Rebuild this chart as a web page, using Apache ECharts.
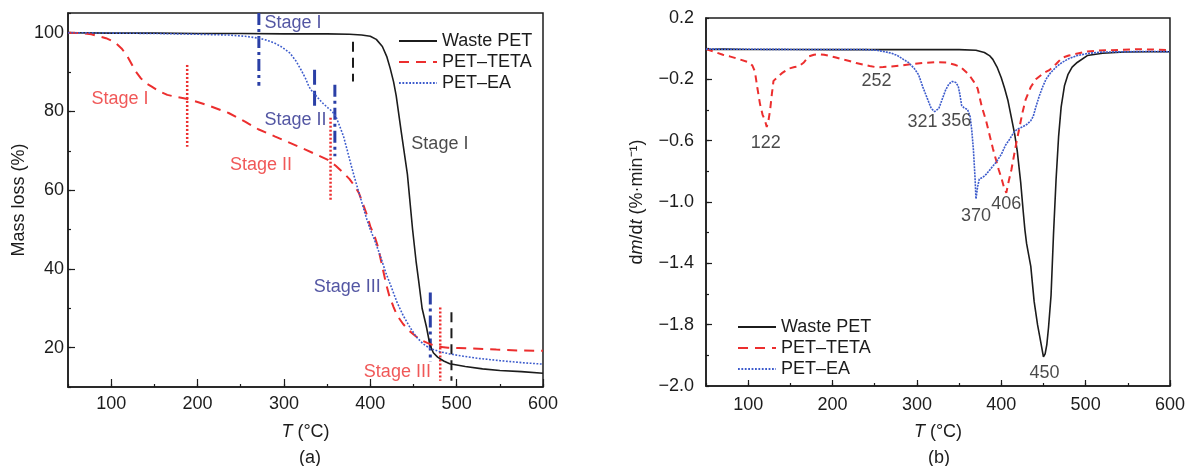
<!DOCTYPE html>
<html>
<head>
<meta charset="utf-8">
<script src="https://cdn.jsdelivr.net/npm/echarts@6/dist/echarts.min.js"></script>
<style>
  html, body { margin: 0; padding: 0; background: #fff; }
  #chart { width: 1188px; height: 466px; }
</style>
</head>
<body>
<div id="chart"></div>
<script>
// ---------- (a) TGA: mass loss (%) versus temperature (°C) ----------
const tempWasteA = [50, 100, 150, 200, 250, 300, 350, 376, 390, 400, 407, 414, 419, 423, 427, 430, 436, 443, 449, 453, 456, 460, 465, 469, 473, 478, 485, 492, 510, 530, 550, 575, 600];
const massWasteA = [100, 99.9, 99.9, 99.8, 99.8, 99.7, 99.7, 99.6, 99.4, 99.1, 98.3, 96.5, 94, 91, 87.5, 84, 74.6, 64, 50, 42, 37, 30, 25.3, 20.8, 18.7, 17.6, 16.6, 15.9, 15.2, 14.6, 14.2, 13.9, 13.5];

const tempTetaA = [50, 65, 77, 94, 104, 112, 118, 123, 128, 134, 140, 147, 155, 165, 175, 187, 200, 210, 225, 236, 255, 271, 290, 307, 325, 338, 351, 360, 369, 376, 382, 387, 391, 396, 400, 405, 409, 413, 418, 422, 427, 431, 438, 445, 452, 458, 466, 473, 480, 490, 502, 525, 546, 570, 600];
const massTetaA = [100, 99.9, 99.6, 98.6, 97.6, 96, 94.3, 92.3, 90.3, 88.5, 87.2, 86.3, 85.2, 84.2, 83.7, 83.2, 82.4, 81.7, 80.5, 79.6, 77.4, 75.4, 73.6, 72, 70.3, 69, 67.7, 66.2, 64.4, 62.8, 61, 59.2, 56.8, 53.8, 50.8, 48.3, 45.5, 41.5, 36.5, 33.2, 30.3, 28.2, 26, 24.3, 23, 22, 21.2, 20.6, 20.2, 20, 19.9, 19.7, 19.5, 19.3, 19.2];

const tempEaA = [50, 100, 150, 200, 236, 255, 271, 280, 289, 298, 307, 314, 320, 325, 329, 333, 338, 344, 351, 356, 360, 364, 369, 373, 378, 382, 387, 391, 396, 400, 405, 409, 413, 418, 424, 431, 438, 445, 453, 461, 469, 480, 492, 508, 524, 550, 575, 600];
const massEaA = [100, 99.9, 99.8, 99.6, 99.4, 99.1, 98.6, 98.1, 97.4, 96.3, 94.8, 92.8, 90.5, 88.4, 86.3, 85, 83.8, 82.3, 80.9, 80, 78.8, 76.6, 73.7, 70.4, 66.2, 63, 59.3, 56.3, 52.6, 50, 47.3, 44.9, 42.4, 39, 35.6, 31.5, 28.2, 25.5, 22.8, 21, 19.8, 19, 18.4, 17.8, 17.3, 16.7, 16.2, 15.8];

// stage boundaries: [temperature, upper mass, lower mass]
const stageBoundsWaste = [[380, 97.7, 87.6], [494, 29, 11.6]];
const stageBoundsTeta = [[188, 91.8, 71], [354, 78.4, 57.2], [481, 30.2, 11.6]];
const stageBoundsEa = [[271, 105, 86.5], [335.5, 90.6, 80.4], [359, 86.8, 68.6], [469.5, 34, 16.4]];

// stage captions: [text, temperature at left edge, mass at mid-height]
const stageNotesWaste = [['Stage I', 447, 71.6]];
const stageNotesTeta = [['Stage I', 76.5, 83.1], ['Stage II', 237, 66.5], ['Stage III', 392, 13.9]];
const stageNotesEa = [['Stage I', 277, 102.5], ['Stage II', 277, 77.7], ['Stage III', 334, 35.3]];

const xTicksA = [100, 200, 300, 400, 500, 600];
const yTicksA = [20, 40, 60, 80, 100];

// ---------- (b) DTG: dm/dt (%·min⁻¹) versus temperature (°C) ----------
const tempWasteB = [50, 70, 100, 150, 200, 250, 300, 350, 370, 380, 386, 390, 395, 400, 404, 408, 412, 416, 419, 423, 426, 428, 430, 432, 435, 439, 443, 446, 448, 450, 452, 454, 456, 459, 462, 465, 468, 471, 475, 479, 484, 490, 502, 520, 546, 575, 600];
const dtgWasteB = [-0.005, -0.003, -0.005, -0.005, -0.006, -0.006, -0.006, -0.006, -0.01, -0.025, -0.045, -0.07, -0.12, -0.19, -0.26, -0.34, -0.45, -0.56, -0.67, -0.87, -1.06, -1.18, -1.27, -1.33, -1.42, -1.65, -1.8, -1.89, -1.95, -2.01, -1.99, -1.93, -1.82, -1.61, -1.2, -0.85, -0.57, -0.38, -0.24, -0.17, -0.12, -0.09, -0.045, -0.03, -0.022, -0.02, -0.02];

const tempTetaB = [50, 60, 70, 78, 90, 101, 105, 108, 111, 114, 117, 120, 122, 124, 126, 128, 130, 134, 140, 148, 155, 160, 166, 172, 178, 184, 190, 196, 204, 212, 220, 228, 236, 244, 252, 260, 270, 280, 295, 310, 325, 335, 345, 352, 358, 363, 368, 372, 377, 382, 386, 390, 394, 397, 400, 403, 406, 409, 412, 415, 418, 421, 425, 429, 435, 441, 450, 457, 465, 472, 480, 492, 502, 516, 540, 560, 580, 600];
const dtgTetaB = [-0.003, -0.02, -0.04, -0.05, -0.07, -0.09, -0.11, -0.15, -0.26, -0.36, -0.43, -0.47, -0.51, -0.47, -0.4, -0.3, -0.21, -0.19, -0.16, -0.13, -0.12, -0.115, -0.09, -0.05, -0.04, -0.036, -0.04, -0.047, -0.058, -0.07, -0.08, -0.094, -0.103, -0.113, -0.121, -0.12, -0.116, -0.11, -0.1, -0.092, -0.088, -0.09, -0.105, -0.12, -0.15, -0.18, -0.22, -0.26, -0.38, -0.47, -0.56, -0.65, -0.73, -0.79, -0.84, -0.9, -0.94, -0.86, -0.79, -0.7, -0.61, -0.53, -0.42, -0.33, -0.25, -0.2, -0.16, -0.14, -0.1, -0.06, -0.045, -0.03, -0.018, -0.012, -0.008, -0.003, -0.006, -0.01];

const tempEaB = [50, 100, 150, 200, 240, 252, 262, 270, 277, 284, 290, 297, 302, 307, 312, 317, 321, 326, 330, 334, 338, 342, 346, 349, 351, 353, 356, 360, 363, 365, 367, 369, 370, 372, 374, 378, 382, 388, 394, 400, 405, 410, 415, 419, 425, 430, 435, 438, 441, 445, 449, 453, 458, 465, 472, 480, 490, 504, 520, 550, 575, 600];
const dtgEaB = [-0.003, -0.004, -0.005, -0.005, -0.006, -0.01, -0.02, -0.03, -0.045, -0.07, -0.09, -0.13, -0.17, -0.25, -0.32, -0.39, -0.41, -0.39, -0.33, -0.27, -0.23, -0.214, -0.22, -0.245, -0.3, -0.37, -0.386, -0.397, -0.44, -0.53, -0.66, -0.85, -0.98, -0.9, -0.85, -0.84, -0.82, -0.78, -0.74, -0.69, -0.63, -0.59, -0.545, -0.525, -0.51, -0.495, -0.47, -0.44, -0.38, -0.31, -0.25, -0.2, -0.16, -0.12, -0.09, -0.065, -0.045, -0.03, -0.022, -0.02, -0.018, -0.02];

// peak temperatures annotated on each DTG curve
const peaksWasteB = [450];
const peaksTetaB = [122, 252, 406];
const peaksEaB = [321, 356, 370];

const xTicksB = [100, 200, 300, 400, 500, 600];
const yTicksB = [0.2, -0.2, -0.6, -1.0, -1.4, -1.8, -2.2];
const yTickLabelsB = ['0.2', '−0.2', '−0.6', '−1.0', '−1.4', '−1.8', '−2.0'];

const seriesNames = ['Waste PET', 'PET–TETA', 'PET–EA'];

// ---------- styling ----------
const FONT = '"Liberation Sans", Arial, Helvetica, sans-serif';
const INK = '#1c1c1c';
const RED = '#ec2e2e';
const BLUE = '#3c5bcc';
const NAVY = '#2a3fa6';
const NAVY_TEXT = '#282c8c';

const zip = (xs, ys) => xs.map((x, i) => [x, ys[i]]);
const valueAt = (xs, ys, t) => ys[xs.indexOf(t)];

// shift (px) of each peak caption relative to its peak
const peakLabelShift = { 122: [-1, 16], 252: [0, 14], 406: [0, 11], 321: [-12, 10], 356: [-8, 13], 370: [0, 17], 450: [1, 16] };

function valueAxis(grid, min, max, interval, opts) {
  return Object.assign({
    type: 'value', gridIndex: grid, min: min, max: max, interval: interval,
    axisLine: { show: true, onZero: false, lineStyle: { color: INK, width: 1.5 } },
    axisTick: { show: true, inside: true, length: 3, lineStyle: { color: INK, width: 1.2 } },
    splitLine: { show: false },
  }, opts);
}

// extra axis that only draws the longer major ticks
function tickOverlay(grid, min, max, values, len, position) {
  return {
    type: 'value', gridIndex: grid, min: min, max: max, position: position,
    axisLine: { show: false, onZero: false },
    axisLabel: { show: false },
    splitLine: { show: false },
    axisTick: { show: true, inside: true, length: len, customValues: values, lineStyle: { color: INK, width: 1.2 } }
  };
}

const labelStyle = { color: INK, fontSize: 18, fontFamily: FONT };
const nameStyle = {
  color: INK, fontSize: 18, fontFamily: FONT,
  rich: { it: { fontStyle: 'italic', fontSize: 18, fontFamily: FONT, color: INK } }
};

const xAxes = [
  valueAxis(0, 50, 600, 50, {
    position: 'bottom',
    axisLabel: Object.assign({ customValues: xTicksA, margin: 8 }, labelStyle),
    name: '{it|T} (°C)', nameLocation: 'middle', nameGap: 36, nameTextStyle: nameStyle
  }),
  tickOverlay(0, 50, 600, xTicksA, 8, 'bottom'),
  valueAxis(1, 50, 600, 50, {
    position: 'bottom',
    axisLabel: Object.assign({ customValues: xTicksB, margin: 10 }, labelStyle),
    name: '{it|T} (°C)', nameLocation: 'middle', nameGap: 37, nameTextStyle: nameStyle
  }),
  tickOverlay(1, 50, 600, xTicksB, 6, 'bottom')
];

const yAxes = [
  valueAxis(0, 10, 105, 10, {
    position: 'left',
    axisLabel: Object.assign({ customValues: yTicksA, margin: 4 }, labelStyle),
    name: 'Mass loss (%)', nameLocation: 'middle', nameGap: 40, nameTextStyle: nameStyle
  }),
  tickOverlay(0, 10, 105, yTicksA, 7, 'left'),
  valueAxis(1, -2.2, 0.2, 0.2, {
    position: 'left',
    axisLabel: Object.assign({
      customValues: yTicksB, margin: 12,
      formatter: v => yTickLabelsB[yTicksB.findIndex(t => Math.abs(t - v) < 1e-6)]
    }, labelStyle),
    name: 'd{it|m}/d{it|t} (%·min⁻¹)', nameLocation: 'middle', nameGap: 60, nameTextStyle: nameStyle
  }),
  tickOverlay(1, -2.2, 0.2, yTicksB.slice(1, 6), 6, 'left')
];

function curve(name, data, axis, color, width, type) {
  return {
    name: name, type: 'line', data: data, xAxisIndex: axis, yAxisIndex: axis,
    symbol: 'none', smooth: false, silent: true, z: 3,
    itemStyle: { color: color },
    lineStyle: { color: color, width: width, type: type }
  };
}

function boundary(bound, color, width, type, idx) {
  return {
    name: 'bound-' + idx, type: 'line', xAxisIndex: 0, yAxisIndex: 0,
    data: [[bound[0], bound[1]], [bound[0], bound[2]]],
    symbol: 'none', silent: true, z: 2,
    itemStyle: { color: color },
    lineStyle: { color: color, width: width, type: type }
  };
}

function stageCaptions(notes, color, idx) {
  return {
    name: 'stage-' + idx, type: 'scatter', xAxisIndex: 0, yAxisIndex: 0,
    symbolSize: 1, itemStyle: { color: 'rgba(0,0,0,0)' }, silent: true, z: 5,
    data: notes.map(n => ({
      value: [n[1], n[2]],
      label: { show: true, position: 'right', distance: 0, formatter: n[0], color: color, fontSize: 18, fontFamily: FONT }
    }))
  };
}

function peakCaptions(peaks, xs, ys, idx) {
  return {
    name: 'peak-' + idx, type: 'scatter', xAxisIndex: 2, yAxisIndex: 2,
    symbolSize: 1, itemStyle: { color: 'rgba(0,0,0,0)' }, silent: true, z: 5,
    data: peaks.map(t => ({
      value: [t, valueAt(xs, ys, t)],
      label: { show: true, position: 'inside', offset: peakLabelShift[t], formatter: String(t), color: INK, fontSize: 18, fontFamily: FONT }
    }))
  };
}

const DASH_A = [10, 7];
const DOT_A = [1.8, 1.6];
const DASH_B = [7, 5];
const DOT_B = [2, 1];
const DASHDOT = [12, 4, 3, 4];

const series = [
  curve(seriesNames[0], zip(tempWasteA, massWasteA), 0, INK, 1.6, 'solid'),
  curve(seriesNames[1], zip(tempTetaA, massTetaA), 0, RED, 2, DASH_A),
  curve(seriesNames[2], zip(tempEaA, massEaA), 0, BLUE, 1.6, DOT_A),
  curve(seriesNames[0], zip(tempWasteB, dtgWasteB), 2, INK, 1.6, 'solid'),
  curve(seriesNames[1], zip(tempTetaB, dtgTetaB), 2, RED, 2, DASH_B),
  curve(seriesNames[2], zip(tempEaB, dtgEaB), 2, BLUE, 1.6, DOT_B),
];

stageBoundsWaste.forEach((b, i) => series.push(boundary(b, INK, 2, [10, 6], 'w' + i)));
stageBoundsTeta.forEach((b, i) => series.push(boundary(b, RED, 2.5, [2, 2], 't' + i)));
stageBoundsEa.forEach((b, i) => series.push(boundary(b, NAVY, 3, i === 1 ? [15, 6] : DASHDOT, 'e' + i)));

series.push(stageCaptions(stageNotesWaste, INK, 'w'));
series.push(stageCaptions(stageNotesTeta, RED, 't'));
series.push(stageCaptions(stageNotesEa, NAVY_TEXT, 'e'));

series.push(peakCaptions(peaksWasteB, tempWasteB, dtgWasteB, 'w'));
series.push(peakCaptions(peaksTetaB, tempTetaB, dtgTetaB, 't'));
series.push(peakCaptions(peaksEaB, tempEaB, dtgEaB, 'e'));

const legendBase = {
  data: seriesNames, orient: 'vertical', itemWidth: 38, itemHeight: 14, itemGap: 3,
  selectedMode: false,
  itemStyle: { opacity: 0 },
  textStyle: { color: INK, fontSize: 18, fontFamily: FONT, lineHeight: 18 }
};

const chart = echarts.init(document.getElementById('chart'), null, { renderer: 'canvas' });
chart.setOption({
  animation: false,
  backgroundColor: '#ffffff',
  grid: [
    { left: 68, top: 13, width: 475, height: 374, show: true, borderColor: INK, borderWidth: 1.5, backgroundColor: 'transparent' },
    { left: 706, top: 18, width: 466, height: 368, show: true, borderColor: INK, borderWidth: 1.5, backgroundColor: 'transparent' }
  ],
  xAxis: xAxes,
  yAxis: yAxes,
  legend: [
    Object.assign({ left: 393, top: 27 }, legendBase),
    Object.assign({ left: 732, top: 313 }, legendBase)
  ],
  graphic: [
    { type: 'text', x: 310, y: 458, style: { text: '(a)', fill: INK, fontSize: 18, fontFamily: FONT, align: 'center', verticalAlign: 'middle' } },
    { type: 'text', x: 939, y: 458, style: { text: '(b)', fill: INK, fontSize: 18, fontFamily: FONT, align: 'center', verticalAlign: 'middle' } }
  ],
  series: series
});
</script>
</body>
</html>
